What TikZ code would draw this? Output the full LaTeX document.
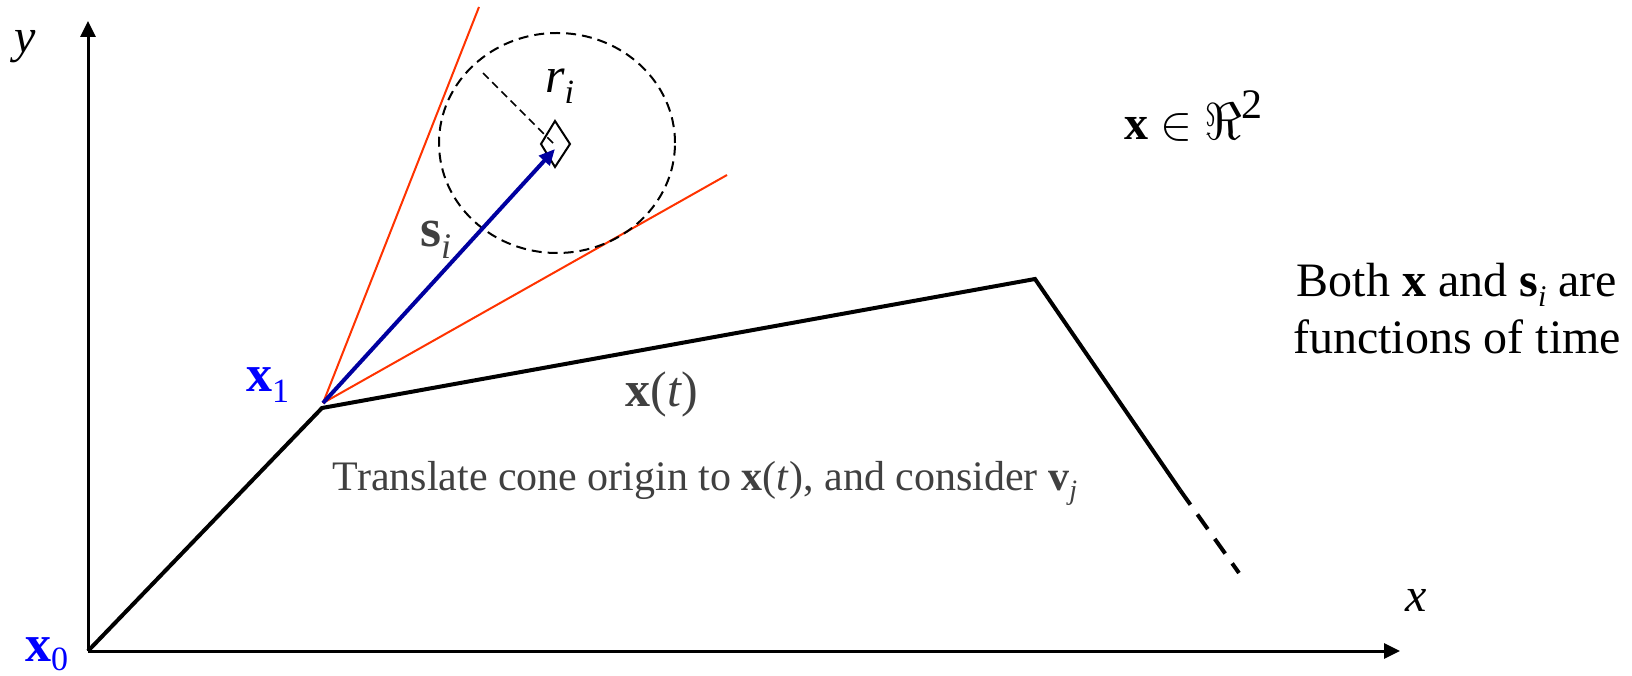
\RequirePackage{fix-cm}
\documentclass[tikz,border=0pt]{standalone}
\usepackage{fontspec}
\setmainfont{Liberation Serif}
\usetikzlibrary{arrows.meta}
\definecolor{lblblue}{RGB}{0,0,255}
\definecolor{arrblue}{RGB}{0,0,160}
\definecolor{conered}{RGB}{255,51,0}
\definecolor{txtgray}{RGB}{64,64,64}
\newcommand\mysub[2]{\raisebox{-0.22em}{\fontsize{#1}{#1}\selectfont #2}}
\newcommand\mysup[2]{\raisebox{0.45em}{\fontsize{#1}{#1}\selectfont #2}}
\tikzset{
  axisline/.style={line width=3pt,-{Triangle[length=16pt,width=15pt]}},
  pathline/.style={line width=4pt},
  coneline/.style={line width=2pt,conered},
  lbl/.style={inner sep=0pt,outer sep=0pt},
}
\begin{document}
\begin{tikzpicture}[x=1pt,y=-1pt]
\useasboundingbox (0,0) rectangle (1632,676);
% coordinates
\coordinate (O) at (88,651);
\coordinate (ytip) at (88,21);
\coordinate (xtip) at (1400,651);
\coordinate (X1) at (322,408);
\coordinate (P2) at (1035,279);
\coordinate (P3) at (1180,490);
\coordinate (P4) at (1239,573);
\coordinate (C) at (323,403);
\coordinate (R1) at (479,7);
\coordinate (R2) at (727,175);
\coordinate (S) at (557,143);
\coordinate (Stip) at (555,149);
\coordinate (Rad) at (483,73);
\coordinate (RadE) at (553,143);
\coordinate (D1) at (555,121);
\coordinate (D2) at (570,144);
\coordinate (D3) at (555,167);
\coordinate (D4) at (541,144);
% axes
\draw[axisline] (O) -- (ytip);
\draw[axisline] (O) -- (xtip);
% trajectory
\draw[pathline,line join=miter] (O) -- (X1) -- (P2) -- (P3);
\draw[pathline,dash pattern=on 18pt off 12pt] (P3) -- (P4);
% cone
\draw[coneline] (C) -- (R1);
\draw[coneline] (C) -- (R2);
% circle
\draw[line width=2pt,dash pattern=on 10pt off 6pt] (S) ellipse [x radius=118pt,y radius=110pt];
\draw[line width=1.6pt,dash pattern=on 8pt off 5pt] (Rad) -- (RadE);
% diamond
\draw[line width=2pt] (D1) -- (D2) -- (D3) -- (D4) -- cycle;
% s_i arrow
\draw[line width=4pt,arrblue,-{Triangle[length=16pt,width=14pt]}] (C) -- (Stip);
% labels
\node[lbl,font=\fontsize{48}{48}\selectfont\itshape] (ylab) at (25,47) {y};
\node[lbl,font=\fontsize{48}{48}\selectfont\itshape] (xlab) at (1416,600) {x};
\node[lbl,lblblue,font=\fontsize{52}{52}\selectfont,anchor=base west] (x0) at (25,661) {\textbf{x}\raisebox{-0.18em}{\fontsize{34}{34}\selectfont 0}};
\node[lbl,lblblue,font=\fontsize{52}{52}\selectfont,anchor=base west] (x1) at (246,391) {\textbf{x}\mysub{34}{1}};
\node[lbl,txtgray,font=\fontsize{50}{50}\selectfont,anchor=base] (xt) at (662,406) {\textbf{x}(\textit{t})};
\node[lbl,txtgray,font=\fontsize{42}{42}\selectfont,anchor=base] (transl) at (705,490) {Translate cone origin to \textbf{x}(\textit{t}), and consider \textbf{v}\mysub{28}{\textit{j}}};
\node[lbl,txtgray,font=\fontsize{54}{54}\selectfont,anchor=base west] (si) at (420,247) {\textbf{s}\mysub{36}{\textit{i}}};
\node[lbl,black,font=\fontsize{50}{50}\selectfont,anchor=base west] (ri) at (545,93) {\textit{r}\mysub{34}{\textit{i}}};
\node[lbl,font=\fontsize{48}{48}\selectfont,anchor=base west] (xin) at (1124,140) {\fontsize{48}{48}\selectfont\textbf{x} $\in$ {\fontsize{52}{52}\selectfont$\Re$}\mysup{42}{2}};
\node[lbl,font=\fontsize{48}{48}\selectfont,anchor=base] (both1) at (1457,296) {Both \textbf{x} and \textbf{s}\mysub{30}{\textit{i}} are};
\node[lbl,font=\fontsize{48}{48}\selectfont,anchor=base] (both2) at (1457,353) {functions of time};
\end{tikzpicture}
\end{document}
